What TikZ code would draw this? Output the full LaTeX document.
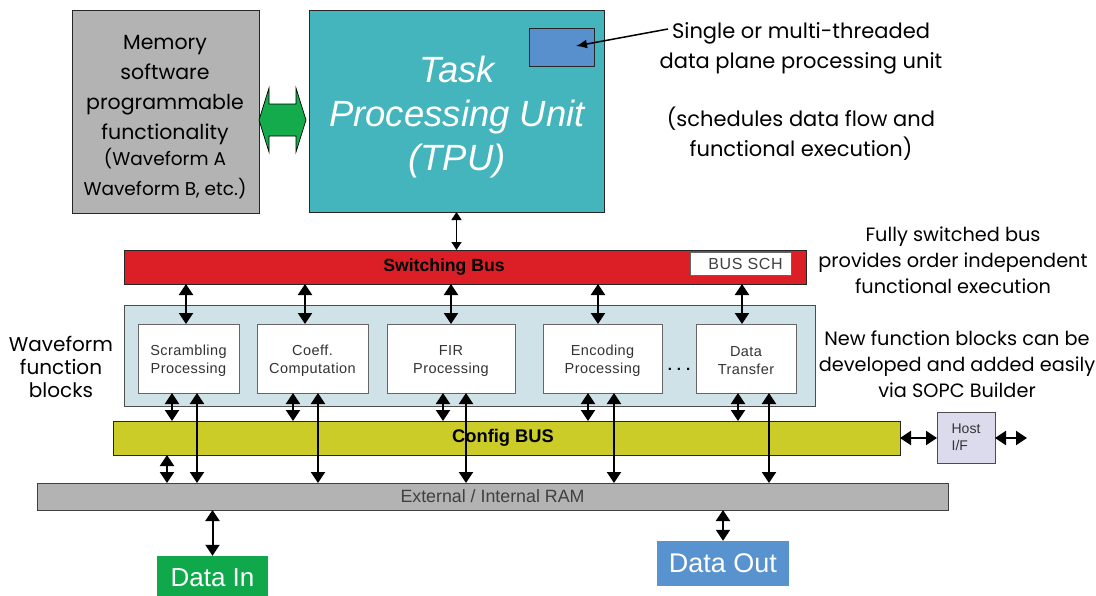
\documentclass[tikz,border=0pt]{standalone}
\usepackage{fontspec}
\setmainfont{Liberation Sans}
\newfontfamily\geo{Poppins}
\usetikzlibrary{arrows.meta,calc}

\definecolor{memgray}{HTML}{B3B3B3}
\definecolor{tputeal}{HTML}{44B4BD}
\definecolor{unitblue}{HTML}{5890CE}
\definecolor{busred}{HTML}{DC1F26}
\definecolor{wfblue}{HTML}{CFE2E8}
\definecolor{cfgolive}{HTML}{CCCC29}
\definecolor{hostlav}{HTML}{DCDBEE}
\definecolor{ingreen}{HTML}{0FA94B}
\definecolor{outblue}{HTML}{5893D0}
\definecolor{arrowgreen}{HTML}{14AB4C}

\begin{document}
\begin{tikzpicture}[x=1pt,y=-1pt,
  box/.style={draw=black!85, line width=0.9pt, inner sep=0pt, outer sep=0pt},
  fblock/.style={box, draw=black!60, fill=white, minimum height=69pt},
  fbtext/.style={align=center, inner sep=0pt, font=\fontsize{14.5}{18}\selectfont\addfontfeature{LetterSpace=3}, text=black!80},
  geotext/.style={align=center, inner sep=0pt, font=\geo\fontsize{21}{30}\selectfont},
  geosmall/.style={align=center, inner sep=0pt, font=\geo\fontsize{19.3}{26}\selectfont},
  dbl/.style={{Triangle[length=11pt,width=14pt]}-{Triangle[length=11pt,width=14pt]}, line width=2pt},
  thindbl/.style={{Triangle[length=8pt,width=10pt]}-{Triangle[length=8pt,width=10pt]}, line width=1.5pt},
  pointer/.style={-{Latex[length=11pt,width=9pt]}, line width=1.5pt}]
\useasboundingbox (0,0) rectangle (1096,595);

% memory with software programmable functionality
\node[box, fill=memgray, minimum width=187pt, minimum height=203pt] (mem) at (165.5,111.5) {};
\node[align=center, inner sep=0pt, font=\geo\fontsize{20.5}{30}\selectfont] (memtxt) at (165,117)
  {Memory\\software\\programmable\\functionality\\[-4pt]
   {\fontsize{18.5}{26}\selectfont (Waveform A}\\
   {\fontsize{18.5}{26}\selectfont Waveform B, etc.)}};

% task processing unit
\node[box, fill=tputeal, minimum width=295pt, minimum height=202pt] (tpu) at (456.5,111) {};
\node[align=center, inner sep=0pt, text=white, font=\fontsize{36.5}{44}\selectfont\itshape]
  (tputxt) at (457,117) {Task\\Processing Unit\\(TPU)};
\node[box, fill=unitblue, minimum width=65pt, minimum height=38pt] (unit) at (561.5,47) {};

% wide green double arrow between memory and TPU
\path (mem.east) ++(0,8.5) coordinate (gl);
\path (tpu.west) ++(-3,9) coordinate (gr);
\draw[fill=arrowgreen, draw=black, line width=0.7pt]
  (gl) -- ++(10,-32) -- ++(0,16) -- ($(gr)+(-10,-16)$) -- ++(0,-16) -- (gr)
  -- ++(-10,32) -- ++(0,-16) -- ($(gl)+(10,16)$) -- ++(0,16) -- cycle;

% annotations on the right
\node[geotext] (single) at (801,48) {Single or multi-threaded\\data plane processing unit};
\node[geotext] (sched) at (801,134) {(schedules data flow and\\functional execution)};
\coordinate (ann) at (668,29);
\coordinate (unittip) at (576,46);
\draw[pointer] (ann) -- (unittip);

% switching bus
\node[box, fill=busred, minimum width=682pt, minimum height=34pt] (bus) at (465,267) {};
\node[font=\bfseries\fontsize{17.6}{20}\selectfont, inner sep=0pt] (buslabel) at (444,267) {Switching Bus};
\node[box, draw=black!60, fill=white, minimum width=101pt, minimum height=23pt,
      font=\fontsize{16}{18}\selectfont\addfontfeature{LetterSpace=4}, text=black!75] (sch) at (740.5,263.5) {\hspace{10pt}BUS SCH};
\draw[thindbl] (tpu.south) -- (tpu.south |- bus.north);

\node[geosmall] (fully) at (953,260) {Fully switched bus\\provides order independent\\functional execution};

% waveform function blocks
\node[box, draw=black!70, fill=wfblue, minimum width=691pt, minimum height=101pt] (wf) at (469.5,355.5) {};
\node[align=center, inner sep=0pt, font=\geo\fontsize{20}{23}\selectfont] (wftext) at (61,367) {Waveform\\function\\blocks};
\node[geosmall] (newf) at (957,364) {New function blocks can be\\developed and added easily\\via SOPC Builder};

\node[fblock, minimum width=101pt] (scr)  at (188.5,358.5) {};
\node[fblock, minimum width=111pt] (coef) at (312.5,358.5) {};
\node[fblock, minimum width=128pt] (fir)  at (451,358.5) {};
\node[fblock, minimum width=119pt] (enc)  at (602.5,358.5) {};
\node[fblock, minimum width=100pt] (dat)  at (746,358.5) {};
\node[fbtext] (scrtxt)  at (188.5,361) {Scrambling\\Processing};
\node[fbtext] (coeftxt) at (312.5,361) {Coeff.\\Computation};
\node[fbtext] (firtxt)  at (451,361)   {FIR\\Processing};
\node[fbtext] (enctxt)  at (602.5,361) {Encoding\\Processing};
\node[fbtext] (dattxt)  at (746,361)   {Data\\Transfer};
\node[font=\bfseries\fontsize{15}{16}\selectfont, inner sep=0pt] (dots) at (679,369) {.\hspace{5pt}.\hspace{5pt}.};

% switching bus to blocks
\draw[dbl] ([xshift=-2.5pt]scr.north)  -- ([xshift=-2.5pt]scr.north |- bus.south);
\draw[dbl] ([xshift=-7.5pt]coef.north) -- ([xshift=-7.5pt]coef.north |- bus.south);
\draw[dbl] (fir.north) -- (fir.north |- bus.south);
\draw[dbl] ([xshift=-4.5pt]enc.north)  -- ([xshift=-4.5pt]enc.north |- bus.south);
\draw[dbl] ([xshift=-4pt]dat.north)    -- ([xshift=-4pt]dat.north |- bus.south);

% configuration bus, host interface and RAM
\node[box, fill=cfgolive, minimum width=787pt, minimum height=34pt] (cfg) at (506.5,438) {};
\node[font=\bfseries\fontsize{18.3}{20}\selectfont, inner sep=0pt] (cfglabel) at (503,438) {Config BUS};
\node[box, draw=black!70, fill=hostlav, minimum width=58pt, minimum height=51pt, align=left,
      font=\fontsize{14}{17}\selectfont, text=black!80] (host) at (966,437.5) {Host\\I/F};
\node[box, draw=black!75, fill=memgray, minimum width=911pt, minimum height=27pt,
      font=\fontsize{17.8}{20}\selectfont, text=black!75] (ram) at (492.5,496.5) {External / Internal RAM};

% blocks to config bus (short) and to RAM (long)
\draw[dbl] ([xshift=-16.5pt]scr.south) -- ([xshift=-16.5pt]scr.south |- cfg.north);
\draw[dbl] ([xshift=8.5pt]scr.south)   -- ([xshift=8.5pt]scr.south |- ram.north);
\draw[dbl] ([xshift=-19.5pt]coef.south) -- ([xshift=-19.5pt]coef.south |- cfg.north);
\draw[dbl] ([xshift=5.5pt]coef.south)   -- ([xshift=5.5pt]coef.south |- ram.north);
\draw[dbl] ([xshift=-8pt]fir.south)  -- ([xshift=-8pt]fir.south |- cfg.north);
\draw[dbl] ([xshift=15pt]fir.south)  -- ([xshift=15pt]fir.south |- ram.north);
\draw[dbl] ([xshift=-14.5pt]enc.south) -- ([xshift=-14.5pt]enc.south |- cfg.north);
\draw[dbl] ([xshift=11.5pt]enc.south)  -- ([xshift=11.5pt]enc.south |- ram.north);
\draw[dbl] ([xshift=-8pt]dat.south)  -- ([xshift=-8pt]dat.south |- cfg.north);
\draw[dbl] ([xshift=23pt]dat.south)  -- ([xshift=23pt]dat.south |- ram.north);
\draw[dbl] (cfg.south -| 167,0) -- (ram.north -| 167,0);

\draw[dbl] (cfg.east) -- (cfg.east -| host.west);
\coordinate (hostout) at (1027,438);
\draw[dbl] (host.east |- hostout) -- (hostout);

% data in / data out
\node[fill=ingreen, minimum width=111pt, minimum height=44pt, inner sep=0pt, text=white,
      font=\fontsize{26}{28}\selectfont] (din) at (212.5,578) {Data In};
\node[fill=outblue, minimum width=132pt, minimum height=45pt, inner sep=0pt, text=white,
      font=\fontsize{27}{28}\selectfont] (dout) at (723,563.5) {Data Out};
\draw[dbl] (ram.south -| din.north) -- (din.north);
\draw[dbl] (ram.south -| dout.north) -- (dout.north);
\end{tikzpicture}
\end{document}
